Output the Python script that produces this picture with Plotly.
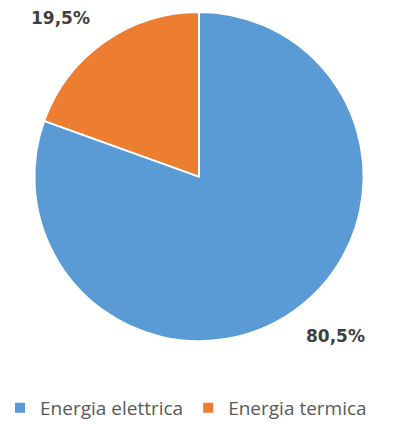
import plotly.graph_objects as go

categories = ["Energia elettrica", "Energia termica"]
values = [80.5, 19.5]
colors = ["#5B9BD5", "#ED7D31"]

W, H = 394, 427
cx, cy, r = 199, 177, 165

fig = go.Figure()
fig.add_trace(go.Pie(
    labels=categories, values=values, sort=False, direction="clockwise", rotation=0,
    marker=dict(colors=colors, line=dict(color="white", width=2)),
    textinfo="none", hoverinfo="label+percent",
    domain=dict(x=[(cx - r) / W, (cx + r) / W], y=[1 - (cy + r) / H, 1 - (cy - r) / H]),
))

def fmt(v):
    return f"{v:.1f}".replace(".", ",") + "%"

label_pos = [(335, 337), (60, 18)]
for v, (x, y) in zip(values, label_pos):
    fig.add_annotation(x=x / W, y=1 - y / H, xref="paper", yref="paper", text=fmt(v),
                       xanchor="center", yanchor="middle", showarrow=False,
                       font=dict(family="DejaVu Sans", size=17, color="#404040", weight="bold"))

fig.update_layout(
    width=W, height=H, margin=dict(l=0, r=0, t=0, b=0),
    paper_bgcolor="white", plot_bgcolor="white",
    showlegend=True,
    legend=dict(orientation="h", x=0, xanchor="left", y=1 - 409 / H, yanchor="middle",
                font=dict(family="Open Sans", size=19, color="#595959"), itemwidth=30,
                traceorder="normal"),
)
fig.write_html("out.html", config={"displayModeBar": False},
               post_script="document.body.style.margin='0';")
